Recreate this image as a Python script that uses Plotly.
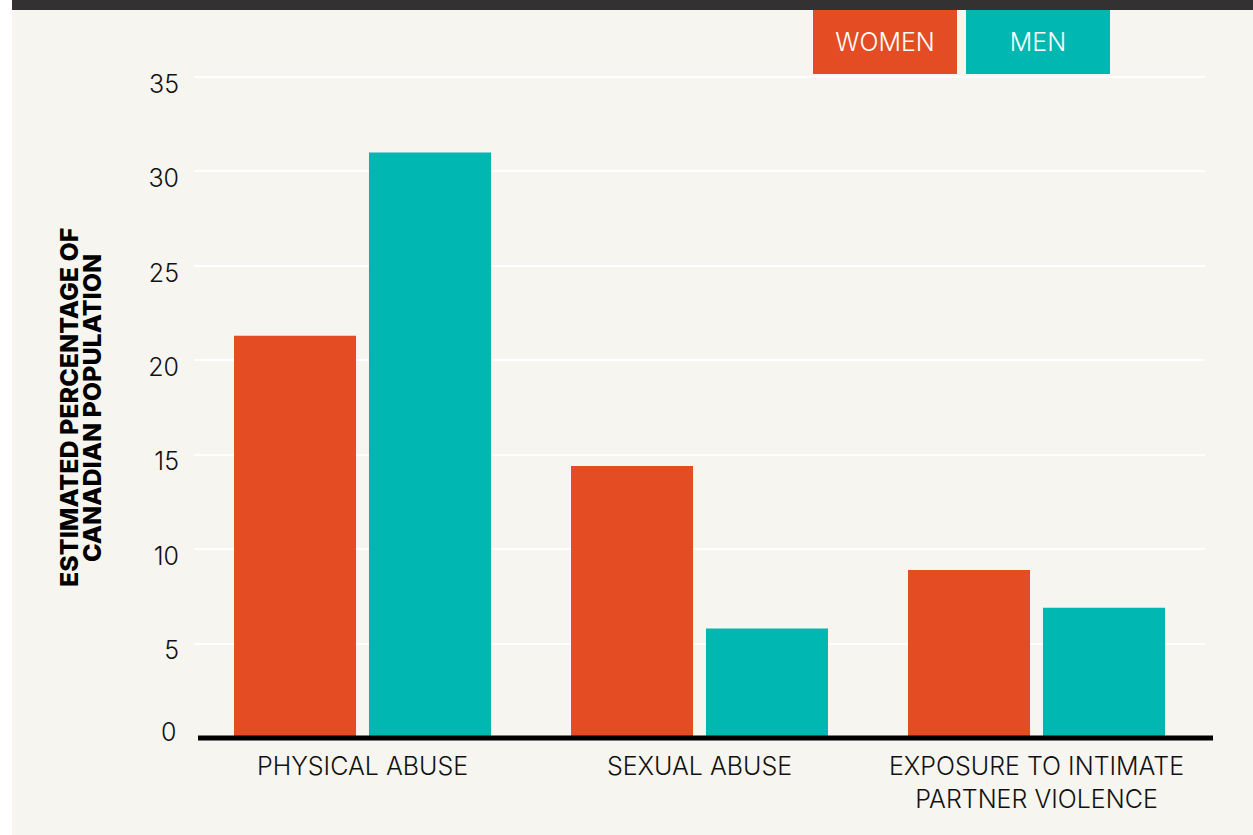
import plotly.graph_objects as go

# Survey categories and estimated shares (% of Canadian population)
categories = ["PHYSICAL ABUSE", "SEXUAL ABUSE", "EXPOSURE TO INTIMATE<br>PARTNER VIOLENCE"]
women = [21.3, 14.4, 8.9]
men = [31.0, 5.8, 6.9]
series_names = ["WOMEN", "MEN"]
y_ticks = [5, 10, 15, 20, 25, 30, 35]

WOMEN_COLOR = "#E44D23"
MEN_COLOR = "#00B8B1"
BG = "#F6F5F0"
DARK = "#333132"
FONT = "Inter"

W, H = 1253, 835
L, R, T, B = 194, 48, 71, 97
PW, PH = W - L - R, H - T - B
PX_PER_UNIT = 661 / 35
Y_MAX = PH / PX_PER_UNIT  # leaves a little headroom so the 35 gridline shows


def px_x(x):
    return (x - L) / PW


def px_y(y):
    return (H - B - y) / PH


fig = go.Figure()
fig.add_trace(go.Bar(x=categories, y=women, name=series_names[0],
                     marker=dict(color=WOMEN_COLOR, line=dict(width=0))))
fig.add_trace(go.Bar(x=categories, y=men, name=series_names[1],
                     marker=dict(color=MEN_COLOR, line=dict(width=0))))

shapes = [
    # page background and top strip
    dict(type="rect", xref="paper", yref="paper", x0=px_x(12), x1=px_x(W), y0=px_y(H), y1=px_y(10),
         fillcolor=BG, line=dict(width=0), layer="below"),
    dict(type="rect", xref="paper", yref="paper", x0=px_x(12), x1=px_x(W), y0=px_y(10), y1=px_y(0),
         fillcolor=DARK, line=dict(width=0), layer="above"),
    # heavy baseline along the bottom of the plot area
    dict(type="line", xref="paper", yref="paper", x0=px_x(198), x1=px_x(1213), y0=0, y1=0,
         line=dict(color="#000000", width=5), layer="above"),
]

annotations = []
# legend boxes
for name, color, left in [(series_names[0], WOMEN_COLOR, 813), (series_names[1], MEN_COLOR, 966)]:
    annotations.append(dict(
        text=name, xref="paper", yref="paper", x=px_x(left), y=px_y(10),
        xanchor="left", yanchor="top", showarrow=False, width=144, height=64,
        bgcolor=color, borderpad=0, borderwidth=0, align="center", valign="middle",
        font=dict(family=FONT, size=25, color="#FFFFFF", weight=300)))

# axis title, two lines
for line, cx in [("ESTIMATED PERCENTAGE OF", 69), ("CANADIAN POPULATION", 92)]:
    annotations.append(dict(
        text=line, xref="paper", yref="paper", x=px_x(cx), y=px_y(408),
        xanchor="center", yanchor="middle", textangle=-90, showarrow=False,
        font=dict(family=FONT, size=25, color="#000000", weight=800)))

# zero label sits just above the baseline
annotations.append(dict(
    text="0", xref="paper", yref="y", x=px_x(178), y=0, yshift=6,
    xanchor="right", yanchor="middle", showarrow=False,
    font=dict(family=FONT, size=25, color="#111111", weight=300)))

fig.update_layout(
    width=W, height=H,
    margin=dict(l=L, r=R, t=T, b=B, pad=0),
    paper_bgcolor="#FFFFFF",
    plot_bgcolor=BG,
    barmode="group",
    bargap=0.199,
    bargroupgap=0.096,
    showlegend=False,
    shapes=shapes,
    annotations=annotations,
    font=dict(family=FONT, color="#111111"),
    xaxis=dict(
        range=[-0.5, 2.5], showgrid=False, zeroline=False, showline=False,
        ticks="outside", ticklen=6, tickcolor="rgba(0,0,0,0)",
        tickfont=dict(family=FONT, size=25, color="#111111", weight=300),
    ),
    yaxis=dict(
        range=[0, Y_MAX], tickvals=y_ticks, showgrid=True, gridcolor="#FFFFFF", gridwidth=1.5,
        zeroline=False, showline=False, ticks="", ticklabelstandoff=14, ticklabelshift=7,
        tickfont=dict(family=FONT, size=25, color="#111111", weight=300),
    ),
)

fig.write_html("out.html")
